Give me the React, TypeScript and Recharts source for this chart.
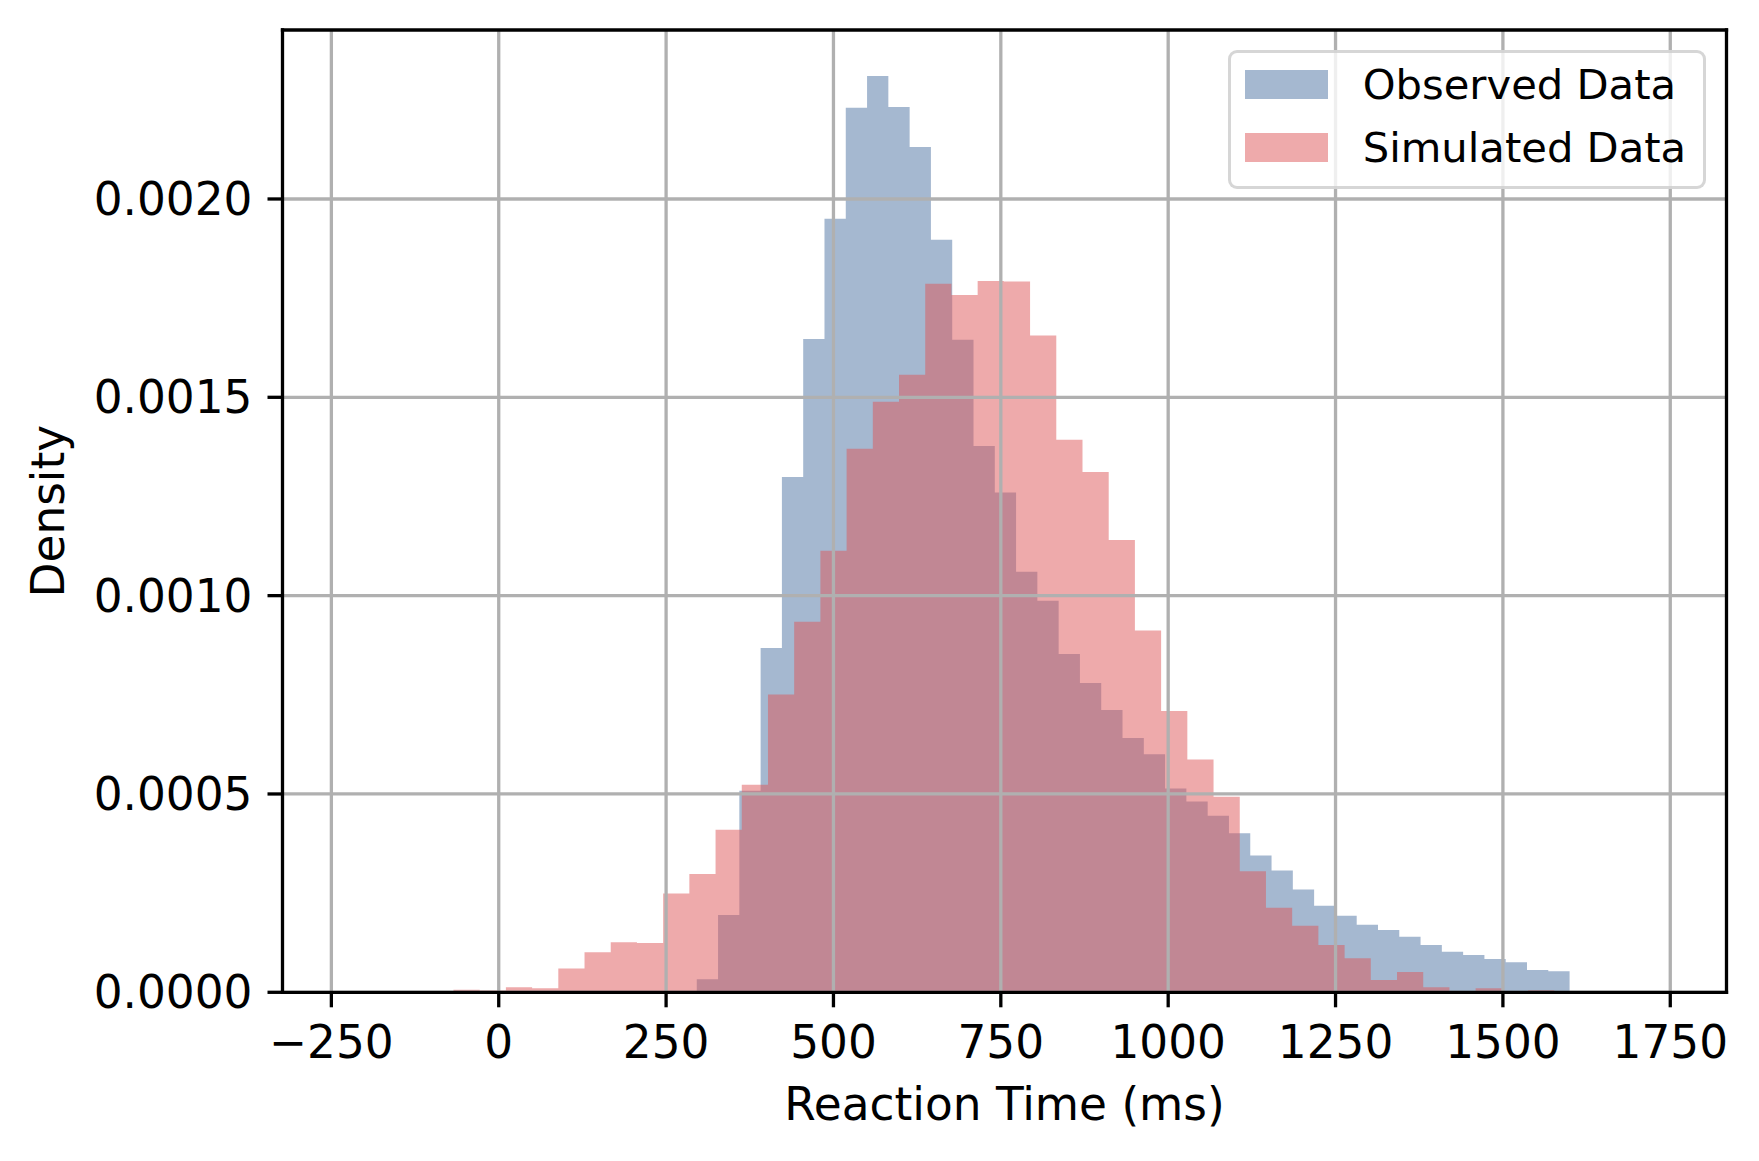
import React from 'react';
import { ComposedChart, Area, XAxis, YAxis, ReferenceLine, Legend } from 'recharts';

// ---- data ----
const observedEdges = [
  264, 295.8, 327.6, 359.4, 391.2, 423, 454.8, 486.6, 518.4, 550.2, 582, 613.8, 645.6, 677.4,
  709.2, 741, 772.8, 804.6, 836.4, 868.2, 900, 931.8, 963.6, 995.4, 1027.2, 1059, 1090.8,
  1122.6, 1154.4, 1186.2, 1218, 1249.8, 1281.6, 1313.4, 1345.2, 1377, 1408.8, 1440.6, 1472.4,
  1504.2, 1536, 1567.8, 1599.6,
];
const observedDensity = [
  0.000003, 0.000033, 0.000195, 0.000508, 0.000868, 0.001299, 0.001647, 0.00195, 0.00223,
  0.00231, 0.002232, 0.002131, 0.001897, 0.001645, 0.001377, 0.00126, 0.00106, 0.000987,
  0.000853, 0.00078, 0.000712, 0.000641, 0.0006, 0.000514, 0.000481, 0.000445, 0.000401,
  0.000345, 0.000307, 0.000259, 0.000218, 0.000193, 0.00017, 0.000157, 0.00014, 0.000119,
  0.000102, 0.000094, 0.000084, 0.000076, 0.000056, 0.000053,
];
const simulatedEdges = [
  -67.6, -28.45, 10.7, 49.85, 89, 128.15, 167.3, 206.45, 245.6, 284.75, 323.9, 363.05, 402.2,
  441.35, 480.5, 519.65, 558.8, 597.95, 637.1, 676.25, 715.4, 754.55, 793.7, 832.85, 872,
  911.15, 950.3, 989.45, 1028.6, 1067.75, 1106.9, 1146.05, 1185.2, 1224.35, 1263.5, 1302.65,
  1341.8, 1380.95, 1420.1, 1459.25, 1498.4, 1537.55, 1576.7,
];
const simulatedDensity = [
  0.0000065, 0.0000045, 0.0000125, 0.00001, 0.00006, 0.000101, 0.000126, 0.000124, 0.000249,
  0.000298, 0.00041, 0.000523, 0.000751, 0.000934, 0.001113, 0.00137, 0.001489, 0.001557,
  0.001786, 0.001758, 0.001793, 0.001792, 0.001656, 0.001393, 0.001312, 0.00114, 0.000912,
  0.000709, 0.000587, 0.000493, 0.000305, 0.000213, 0.000168, 0.000119, 0.000086, 0.000031,
  0.000051, 0.000013, 0, 0.00001, 0, 0.000005,
];
const xTicks = [-250, 0, 250, 500, 750, 1000, 1250, 1500, 1750];
const yTicks = [0, 0.0005, 0.001, 0.0015, 0.002];
const xDomain = [-323, 1834];
const yDomain = [0, 0.002426];
const seriesNames = ['Observed Data', 'Simulated Data'];
const seriesColors = ['#4b71a1', '#dd5557'];

// ---- styles ----
const FONT = '"DejaVu Sans", sans-serif';
const FS = 45.4;
const LEG_FS = 41.7;
const LW = 3.3;
const GRID = '#b0b0b0';

function toSteps(edges: number[], dens: number[]) {
  return edges.map((x, i) => ({ x, y: dens[Math.min(i, dens.length - 1)] }));
}

const observedSteps = toSteps(observedEdges, observedDensity);
const simulatedSteps = toSteps(simulatedEdges, simulatedDensity);

const fmtX = (v: number) => (v < 0 ? '\u2212' + Math.abs(v) : String(v));
const fmtY = (v: number) => v.toFixed(4);

function LegendBox() {
  return (
    <div
      style={{
        position: 'relative',
        boxSizing: 'border-box',
        width: 477.5,
        height: 139,
        border: `${LW}px solid rgba(204,204,204,0.8)`,
        borderRadius: 9,
        background: 'rgba(255,255,255,0.8)',
      }}
    >
      {seriesNames.map((name, i) => (
        <React.Fragment key={name}>
          <div
            style={{
              position: 'absolute',
              left: 13.7,
              top: 16.7 + i * 63,
              width: 83,
              height: 29,
              background: seriesColors[i],
              opacity: 0.5,
            }}
          />
          <div
            style={{
              position: 'absolute',
              left: 131.7,
              top: 11.4 + i * 62.5,
              fontSize: LEG_FS,
              lineHeight: `${LEG_FS}px`,
              fontFamily: FONT,
              whiteSpace: 'nowrap',
              color: '#000',
            }}
          >
            {name}
          </div>
        </React.Fragment>
      ))}
    </div>
  );
}

const YLabel = (props: any) => {
  const vb = props.viewBox || { y: 30, height: 962 };
  const cy = vb.y + vb.height / 2;
  return (
    <text
      x={64}
      y={cy}
      transform={`rotate(-90 64 ${cy})`}
      textAnchor="middle"
      fontFamily={FONT}
      fontSize={FS}
      fill="#000"
    >
      Density
    </text>
  );
};

export default function App() {
  return (
    <div style={{ position: 'absolute', left: 0, top: 0, width: 1759, height: 1161, background: '#fff' }}>
      <ComposedChart width={1759} height={1161} margin={{ top: 30, right: 32.5, bottom: 0, left: 0 }}>
        <XAxis
          type="number"
          dataKey="x"
          domain={xDomain}
          allowDataOverflow
          ticks={xTicks}
          interval={0}
          tickFormatter={fmtX}
          tickSize={15}
          tickMargin={18}
          height={168.7}
          axisLine={false}
          tickLine={{ stroke: '#000', strokeWidth: LW }}
          tick={{ fill: '#000', fontSize: FS, fontFamily: FONT }}
          label={{
            value: 'Reaction Time (ms)',
            position: 'insideBottom',
            offset: 41,
            fill: '#000',
            fontSize: FS,
            fontFamily: FONT,
          }}
        />
        <YAxis
          type="number"
          domain={yDomain}
          allowDataOverflow
          ticks={yTicks}
          interval={0}
          tickFormatter={fmtY}
          tickSize={15}
          tickMargin={15}
          width={282.5}
          axisLine={false}
          tickLine={{ stroke: '#000', strokeWidth: LW }}
          tick={{ fill: '#000', fontSize: FS, fontFamily: FONT }}
          label={YLabel}
        />
        <Area
          data={observedSteps}
          dataKey="y"
          type="stepAfter"
          name={seriesNames[0]}
          fill={seriesColors[0]}
          fillOpacity={0.5}
          stroke="none"
          strokeWidth={0}
          dot={false}
          activeDot={false}
          isAnimationActive={false}
        />
        <Area
          data={simulatedSteps}
          dataKey="y"
          type="stepAfter"
          name={seriesNames[1]}
          fill={seriesColors[1]}
          fillOpacity={0.5}
          stroke="none"
          strokeWidth={0}
          dot={false}
          activeDot={false}
          isAnimationActive={false}
        />
        {xTicks.map((v) => (
          <ReferenceLine key={'gx' + v} x={v} stroke={GRID} strokeWidth={LW} />
        ))}
        {yTicks.map((v) => (
          <ReferenceLine key={'gy' + v} y={v} stroke={GRID} strokeWidth={LW} />
        ))}
        {xDomain.map((v) => (
          <ReferenceLine key={'sx' + v} x={v} stroke="#000" strokeWidth={LW} strokeLinecap="square" />
        ))}
        {yDomain.map((v) => (
          <ReferenceLine key={'sy' + v} y={v} stroke="#000" strokeWidth={LW} strokeLinecap="square" />
        ))}
        <Legend
          layout="vertical"
          align="center"
          verticalAlign="middle"
          wrapperStyle={{ left: 1228, top: 50, width: 477.5, height: 139, margin: 0, padding: 0 }}
          content={() => <LegendBox />}
        />
      </ComposedChart>
    </div>
  );
}
